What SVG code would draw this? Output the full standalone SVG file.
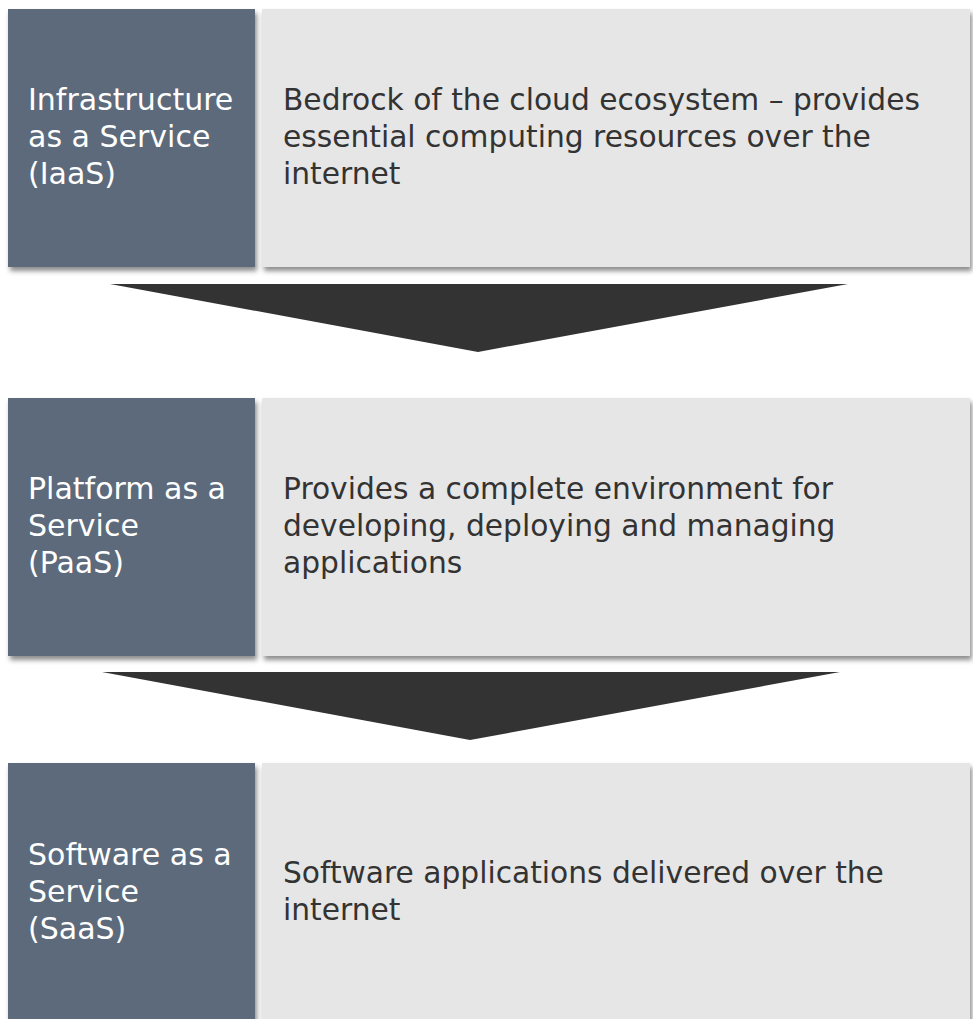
<svg xmlns="http://www.w3.org/2000/svg" width="973" height="1019" viewBox="0 0 973 1019">
<defs>
<filter id="sh" x="-5%" y="-5%" width="115%" height="120%">
<feDropShadow dx="2" dy="4" stdDeviation="2.5" flood-color="#000" flood-opacity="0.45"/>
</filter>
<style>
.lbox{fill:#5b6b7c;filter:url(#sh)}
.rbox{fill:#e6e6e6;filter:url(#sh)}
.arrow{fill:#333333}
.lt{font-family:"DejaVu Sans",sans-serif;font-size:30px;fill:#ffffff}
.rt{font-family:"DejaVu Sans",sans-serif;font-size:29.7px;fill:#333333}
</style>
</defs>
<rect width="973" height="1019" fill="#ffffff"/>
<g id="connectors">
<polygon class="arrow" points="110,284 848,284 478,352"/>
<polygon class="arrow" points="102,672 840,672 470,740"/>
</g>
<g id="iaas">
<rect class="rbox" x="262" y="9" width="708" height="258"/>
<rect class="lbox" x="8" y="9" width="247" height="258"/>
<text class="lt" x="28" y="110">Infrastructure</text>
<text class="lt" x="28" y="147">as a Service</text>
<text class="lt" x="28" y="184">(IaaS)</text>
<text class="rt" x="283" y="110">Bedrock of the cloud ecosystem – provides</text>
<text class="rt" x="283" y="147">essential computing resources over the</text>
<text class="rt" x="283" y="184">internet</text>
</g>
<g id="paas">
<rect class="rbox" x="262" y="398" width="708" height="258"/>
<rect class="lbox" x="8" y="398" width="247" height="258"/>
<text class="lt" x="28" y="499">Platform as a</text>
<text class="lt" x="28" y="536">Service</text>
<text class="lt" x="28" y="573">(PaaS)</text>
<text class="rt" x="283" y="499">Provides a complete environment for</text>
<text class="rt" x="283" y="536">developing, deploying and managing</text>
<text class="rt" x="283" y="573">applications</text>
</g>
<g id="saas">
<rect class="rbox" x="262" y="763" width="708" height="270"/>
<rect class="lbox" x="8" y="763" width="247" height="270"/>
<text class="lt" x="28" y="865">Software as a</text>
<text class="lt" x="28" y="902">Service</text>
<text class="lt" x="28" y="939">(SaaS)</text>
<text class="rt" x="283" y="883">Software applications delivered over the</text>
<text class="rt" x="283" y="920">internet</text>
</g>
</svg>
